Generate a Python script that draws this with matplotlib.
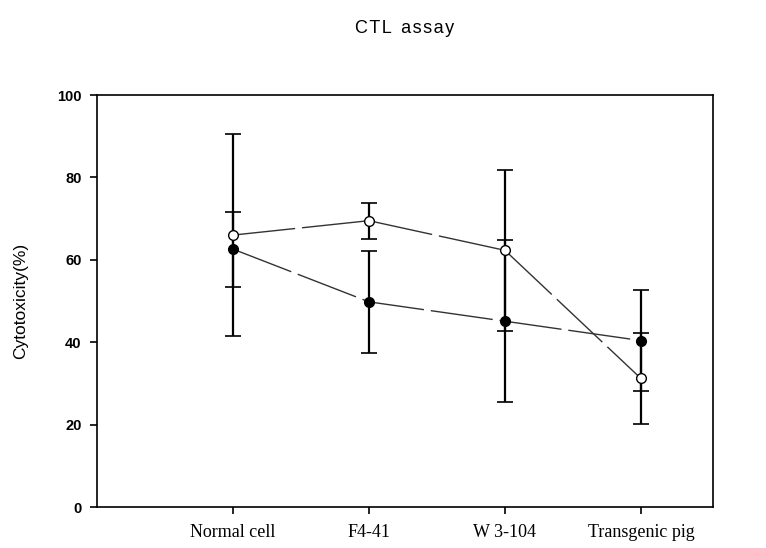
import numpy as np
import matplotlib.pyplot as plt

categories = ['Normal cell', 'F4-41', 'W 3-104', 'Transgenic pig']
filled_mean = [62.6, 49.8, 45.1, 40.4]
filled_err = [9.1, 12.4, 19.7, 12.3]
open_mean = [66.0, 69.5, 62.3, 31.2]
open_err = [24.6, 4.4, 19.5, 11.0]
y_ticks = [0, 20, 40, 60, 80, 100]

x = np.arange(1, len(categories) + 1)

fig = plt.figure(figsize=(7.66, 5.48), dpi=100)
ax = fig.add_axes([0.1266, 0.0748, 0.8042, 0.7518])

# error bars first so the markers sit on top
ax.errorbar(x, filled_mean, yerr=filled_err, fmt='none', ecolor='black',
            elinewidth=1.6, capsize=5.5, capthick=1.2, zorder=2)
ax.errorbar(x, open_mean, yerr=open_err, fmt='none', ecolor='black',
            elinewidth=1.6, capsize=5.5, capthick=1.2, zorder=2)

ax.plot(x, filled_mean, color='#333333', lw=1.0, dashes=(45, 5),
        marker='o', ms=7, mfc='black', mec='black', zorder=3)
ax.plot(x, open_mean, color='#333333', lw=1.0, dashes=(45, 5),
        marker='o', ms=7, mfc='white', mec='black', mew=1.0, zorder=3)

ax.set_xlim(0, 4.53)
ax.set_ylim(0, 100)
ax.set_xticks(x)
ax.set_xticklabels(categories, fontfamily='Liberation Serif', fontsize=13)
ax.set_yticks(y_ticks)
ax.set_yticklabels([str(v) for v in y_ticks], fontfamily='Liberation Sans',
                   fontsize=10.5, fontweight='bold')
ax.tick_params(direction='out', length=5, width=1.2)
ax.tick_params(axis='y', pad=6)
ax.tick_params(axis='x', pad=7)

for s in ax.spines.values():
    s.set_linewidth(1.2)

ax.set_ylabel('Cytotoxicity(%)', fontfamily='Liberation Sans', fontsize=12.5,
              labelpad=21)
ax.set_title('C\u200aT\u200aL  a\u200as\u200as\u200aa\u200ay',
             fontfamily=['Liberation Sans', 'DejaVu Sans'], fontsize=13,
             pad=45)

fig.savefig('out.png', dpi=100)
